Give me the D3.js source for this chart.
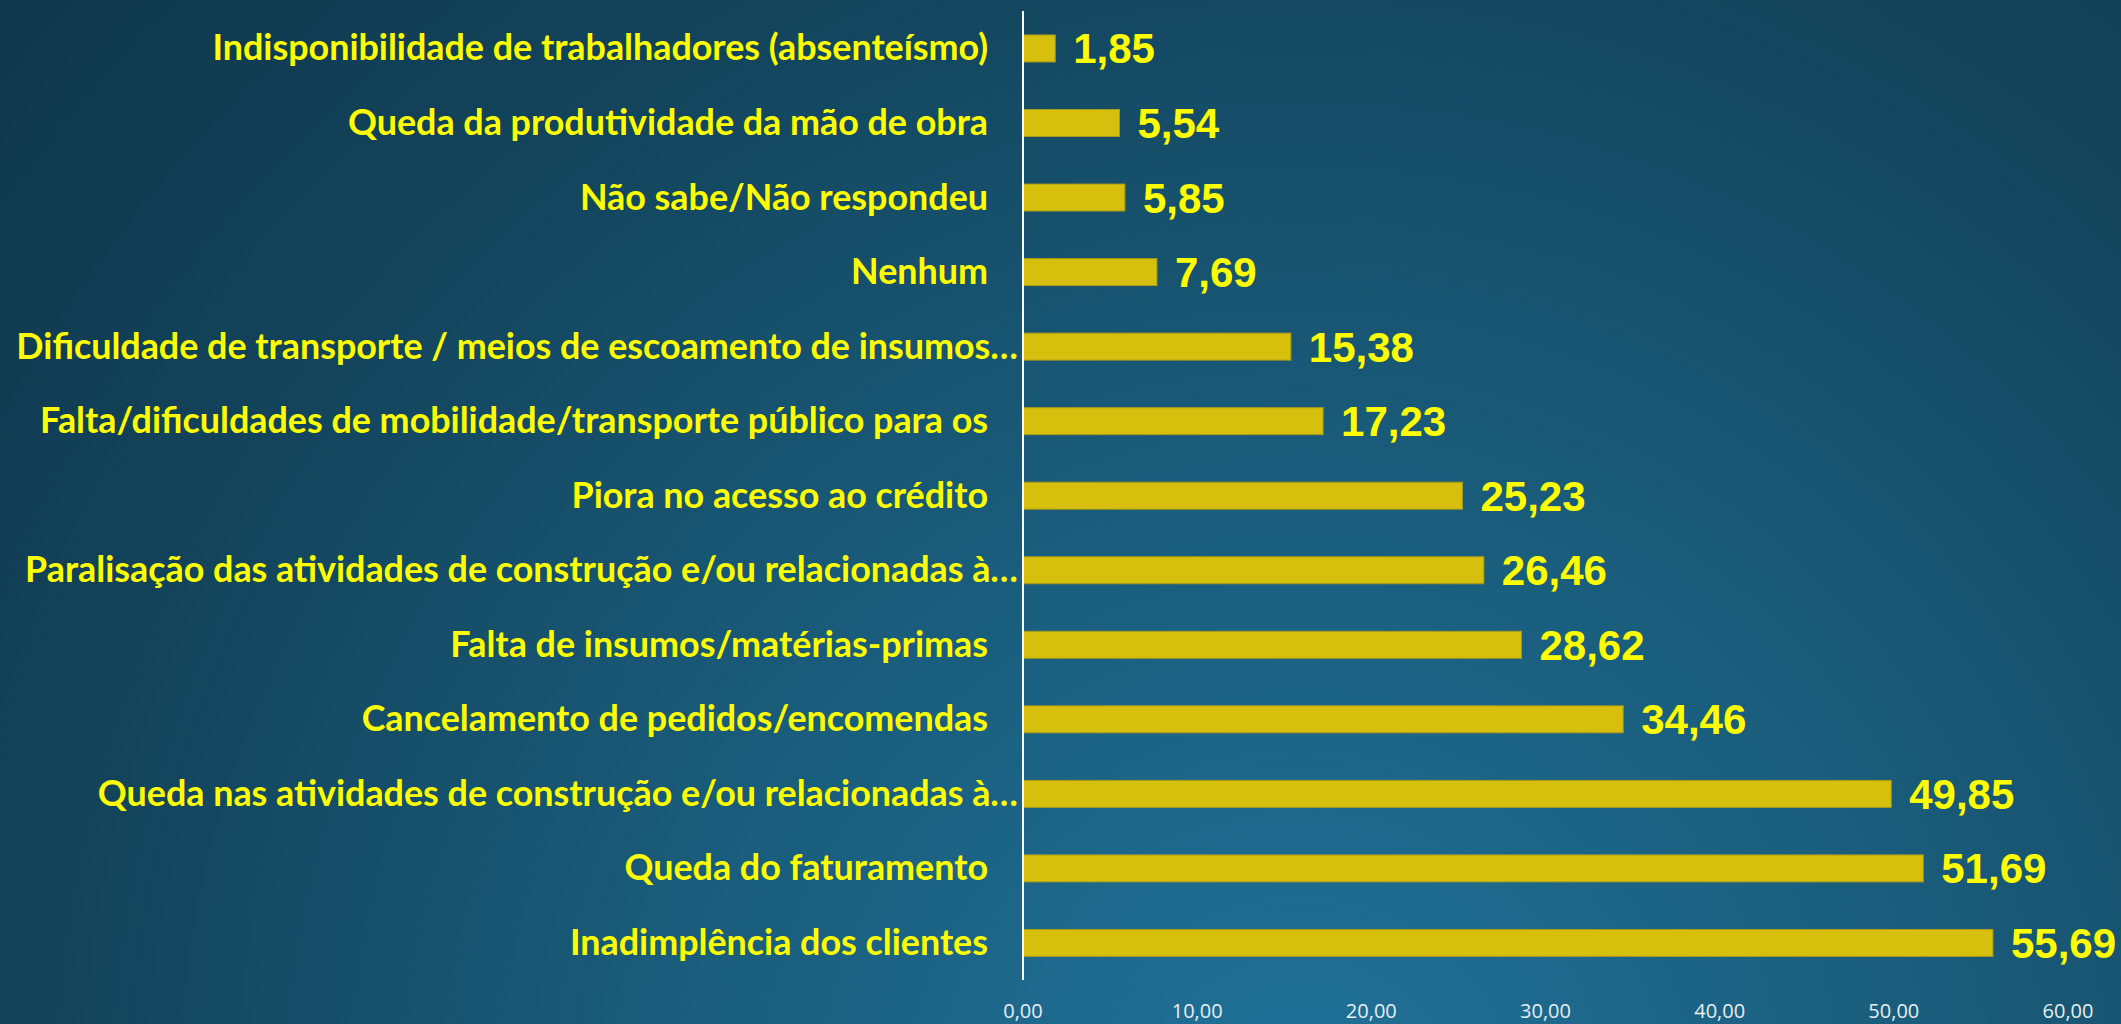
<!DOCTYPE html>
<html lang="pt">
<head>
<meta charset="utf-8">
<title>Impactos</title>
<script src="https://cdn.jsdelivr.net/npm/d3@7"></script>
<style>
  html, body { margin: 0; padding: 0; background: #123f56; overflow: hidden; }
</style>
</head>
<body>
<script>
// categories, top to bottom
var categories = [
  "Indisponibilidade de trabalhadores (absenteísmo)",
  "Queda da produtividade da mão de obra",
  "Não sabe/Não respondeu",
  "Nenhum",
  "Dificuldade de transporte / meios de escoamento de insumos…",
  "Falta/dificuldades de mobilidade/transporte público para os",
  "Piora no acesso ao crédito",
  "Paralisação das atividades de construção e/ou relacionadas à…",
  "Falta de insumos/matérias-primas",
  "Cancelamento de pedidos/encomendas",
  "Queda nas atividades de construção e/ou relacionadas à…",
  "Queda do faturamento",
  "Inadimplência dos clientes"
];
var values = [1.85, 5.54, 5.85, 7.69, 15.38, 17.23, 25.23, 26.46, 28.62, 34.46, 49.85, 51.69, 55.69];
var ticks = [0, 10, 20, 30, 40, 50, 60];

var w = 2121, h = 1024;
var fmt = function(v){ return d3.format(".2f")(v).replace(".", ","); };

var svg = d3.select("body").append("svg").attr("width", w).attr("height", h);

// background gradient
var defs = svg.append("defs");
var grad = defs.append("radialGradient").attr("id", "bg")
  .attr("gradientUnits", "userSpaceOnUse")
  .attr("cx", 1300).attr("cy", 1120).attr("r", 1750);
grad.append("stop").attr("offset", 0).attr("stop-color", "#20729a");
grad.append("stop").attr("offset", 0.4).attr("stop-color", "#195a78");
grad.append("stop").attr("offset", 0.7).attr("stop-color", "#13445c");
grad.append("stop").attr("offset", 1).attr("stop-color", "#0f364a");
svg.append("rect").attr("width", w).attr("height", h).attr("fill", "url(#bg)");

var x = d3.scaleLinear().domain([0, 60]).range([1023, 2068]);
var y = d3.scaleBand().domain(categories).range([12.6, 978.8]).paddingInner(0.638).paddingOuter(0.3);

// bars
svg.selectAll("rect.bar").data(values).enter().append("rect")
  .attr("class", "bar")
  .attr("x", x(0))
  .attr("y", function(d, i){ return y(categories[i]); })
  .attr("width", function(d){ return x(d) - x(0); })
  .attr("height", y.bandwidth())
  .attr("fill", "#d6bf0d")
  .attr("stroke", "#a99a1a").attr("stroke-width", 1);

// value labels
svg.selectAll("text.val").data(values).enter().append("text")
  .attr("class", "val")
  .text(function(d){ return fmt(d); })
  .attr("x", function(d){ return x(d) + 18; })
  .attr("y", function(d, i){ return y(categories[i]) + y.bandwidth() / 2 + 15; })
  .attr("font-family", "'Liberation Sans', Arial, sans-serif")
  .attr("font-weight", "bold").attr("font-size", "42px")
  .attr("fill", "#ffff00");

// category labels
var labels = svg.selectAll("text.cat").data(categories).enter().append("text")
  .attr("class", "cat")
  .text(function(d){ return d; })
  .attr("font-family", "Lato, 'Open Sans', sans-serif")
  .attr("font-weight", "bold").attr("font-size", "37px")
  .attr("fill", "#ffff00")
  .attr("text-anchor", "end");
// condense horizontally to match the narrow original typeface
var widest = labels.filter(function(d, i){ return i === 4; }).node().getComputedTextLength();
var sx = 1002 / widest;
labels.attr("transform", function(d, i){
  var right = (d.slice(-1) === "…") ? 1018 : 988;
  return "translate(" + right + "," + (y(d) + y.bandwidth() / 2 + 12) + ") scale(" + sx + ",1)";
});

// axis line
svg.append("line").attr("x1", x(0)).attr("x2", x(0)).attr("y1", 11).attr("y2", 980)
  .attr("stroke", "#ffffff").attr("stroke-width", 2);

// tick labels
svg.selectAll("text.tick").data(ticks).enter().append("text")
  .attr("class", "tick")
  .text(function(d){ return fmt(d); })
  .attr("x", function(d){ return x(d); })
  .attr("y", 1018)
  .attr("text-anchor", "middle")
  .attr("font-family", "'Open Sans', sans-serif")
  .attr("font-size", "20px")
  .attr("fill", "#e6eef2");
</script>
</body>
</html>
